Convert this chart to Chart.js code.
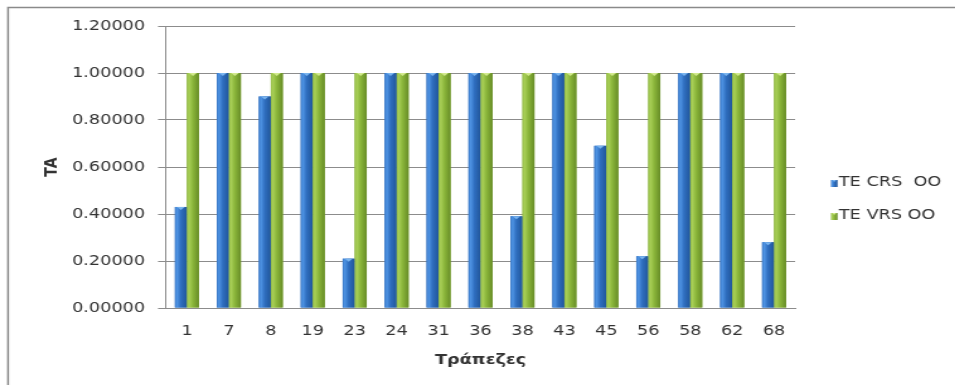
<!DOCTYPE html>
<html>
<head>
<meta charset="utf-8">
<script src="https://cdn.jsdelivr.net/npm/chart.js@4/dist/chart.umd.min.js"></script>
<style>
  html, body { margin: 0; padding: 0; background: #fff; overflow: hidden; }
  /* the chart is laid out on a narrower canvas and widened, giving the broad lettering */
  #wrap { position: absolute; left: 0; top: 0; width: 758px; height: 385px;
          transform: scaleX(1.26); transform-origin: 0 0; }
</style>
</head>
<body>
<div id="wrap"><canvas id="c"></canvas></div>
<script>
// Bank ids on the x axis
const banks = ['1', '7', '8', '19', '23', '24', '31', '36', '38', '43', '45', '56', '58', '62', '68'];
// Technical efficiency, constant returns to scale
const teCrs = [0.43, 1.00, 0.90, 1.00, 0.21, 1.00, 1.00, 1.00, 0.39, 1.00, 0.69, 0.22, 1.00, 1.00, 0.28];
// Technical efficiency, variable returns to scale
const teVrs = [1.00, 1.00, 1.00, 1.00, 1.00, 1.00, 1.00, 1.00, 1.00, 1.00, 1.00, 1.00, 1.00, 1.00, 1.00];
const yTicks = [0, 0.2, 0.4, 0.6, 0.8, 1.0, 1.2];
const seriesNames = ['TE CRS  OO', 'TE VRS OO'];
const yTitle = 'TA';
const xTitle = 'Τράπεζες';

Chart.defaults.font.family = '"DejaVu Sans", Verdana, sans-serif';
Chart.defaults.font.size = 14;

const FONT = '"DejaVu Sans", Verdana, sans-serif';
const TEXT = '#333333';
const GRID = '#8c8c8c';

// cylinder-like shading per series
const palettes = [
  { stops: [[0, '#3a78c6'], [0.18, '#4e93e3'], [0.5, '#2f6ebf'], [1, '#21569a']], cap: '#7ab5ef', flat: '#2f6ebf' },
  { stops: [[0, '#93ba45'], [0.18, '#a8cf57'], [0.5, '#8ab53a'], [1, '#678c27']], cap: '#d2ea8e', flat: '#8ab53a' }
];

function gradientFor(ctx, i, left, right) {
  const g = ctx.createLinearGradient(left, 0, right, 0);
  palettes[i].stops.forEach(s => g.addColorStop(s[0], s[1]));
  return g;
}

// outer frame (top and left edges) and white backdrop
const frame = {
  id: 'frame',
  beforeDraw(chart) {
    const ctx = chart.ctx;
    ctx.save();
    ctx.fillStyle = '#fff';
    ctx.fillRect(0, 0, chart.width, chart.height);
    ctx.strokeStyle = '#8a8a8a';
    ctx.lineWidth = 1.5;
    ctx.beginPath();
    ctx.moveTo(6.4, chart.height + 2);
    ctx.lineTo(6.4, 7.5);
    ctx.lineTo(chart.width + 2, 7.5);
    ctx.stroke();
    ctx.restore();
  }
};

// paints the shaded body and the light top cap over each bar, using the bar's own geometry
const shade = {
  id: 'shade',
  afterDatasetsDraw(chart) {
    const ctx = chart.ctx;
    ctx.save();
    chart.data.datasets.forEach((ds, i) => {
      chart.getDatasetMeta(i).data.forEach(bar => {
        const { x, y, base, width } = bar.getProps(['x', 'y', 'base', 'width'], true);
        const left = x - width / 2, right = x + width / 2;
        ctx.fillStyle = gradientFor(ctx, i, left, right);
        ctx.fillRect(left, y, width, base - y);
        ctx.fillStyle = palettes[i].cap;
        ctx.beginPath();
        ctx.moveTo(x - width * 0.32, y);
        ctx.lineTo(x + width * 0.32, y);
        ctx.lineTo(x, y + 3);
        ctx.closePath();
        ctx.fill();
      });
    });
    ctx.restore();
  }
};

// legend on the right
const legendBox = {
  id: 'legendBox',
  afterDraw(chart) {
    const ctx = chart.ctx;
    ctx.save();
    ctx.font = '14px ' + FONT;
    ctx.textBaseline = 'middle';
    chart.data.datasets.forEach((ds, i) => {
      const cy = 183.5 + i * 33;
      const x0 = 659.5, w = 5.2, h = 7;
      ctx.fillStyle = gradientFor(ctx, i, x0, x0 + w);
      ctx.fillRect(x0, cy - h / 2, w, h);
      ctx.fillStyle = palettes[i].cap;
      ctx.beginPath();
      ctx.moveTo(x0 + 1, cy - h / 2);
      ctx.lineTo(x0 + w - 1, cy - h / 2);
      ctx.lineTo(x0 + w / 2, cy - h / 2 + 2);
      ctx.closePath();
      ctx.fill();
      ctx.fillStyle = TEXT;
      ctx.fillText(ds.label, 665.8, cy - 1);
    });
    ctx.restore();
  }
};

new Chart(document.getElementById('c'), {
  type: 'bar',
  data: {
    labels: banks,
    datasets: [
      { label: seriesNames[0], data: teCrs, backgroundColor: palettes[0].flat, borderWidth: 0 },
      { label: seriesNames[1], data: teVrs, backgroundColor: palettes[1].flat, borderWidth: 0 }
    ]
  },
  options: {
    responsive: true,
    maintainAspectRatio: false,
    animation: false,
    devicePixelRatio: 1,
    layout: { padding: { left: 0, right: 127, top: 26, bottom: 0 } },
    datasets: { bar: { categoryPercentage: 0.573, barPercentage: 1 } },
    plugins: { legend: { display: false }, tooltip: { enabled: false } },
    scales: {
      x: {
        grid: { display: false, drawTicks: false },
        border: { display: true, color: GRID, width: 1 },
        ticks: { color: TEXT, padding: 15, maxRotation: 0, autoSkip: false, font: { size: 14 } },
        title: { display: true, text: xTitle, color: TEXT, font: { size: 14, weight: 'bold' },
                 padding: { top: 0, bottom: 16.6 } },
        afterFit(s) { s.height = 77; }
      },
      y: {
        min: yTicks[0],
        max: yTicks[yTicks.length - 1],
        afterBuildTicks(s) { s.ticks = yTicks.map(v => ({ value: v })); },
        grid: { color: GRID, lineWidth: 1, drawTicks: true, tickLength: 6.3 },
        border: { display: true, color: GRID, width: 1 },
        ticks: { color: TEXT, padding: 10.3, font: { size: 14 },
                 callback: v => Number(v).toFixed(5) },
        title: { display: true, text: yTitle, color: TEXT, font: { size: 14, weight: 'bold' },
                 padding: { top: 32.5, bottom: 0 } },
        afterFit(s) { s.width = 131.7; }
      }
    }
  },
  plugins: [frame, shade, legendBox]
});
</script>
</body>
</html>
